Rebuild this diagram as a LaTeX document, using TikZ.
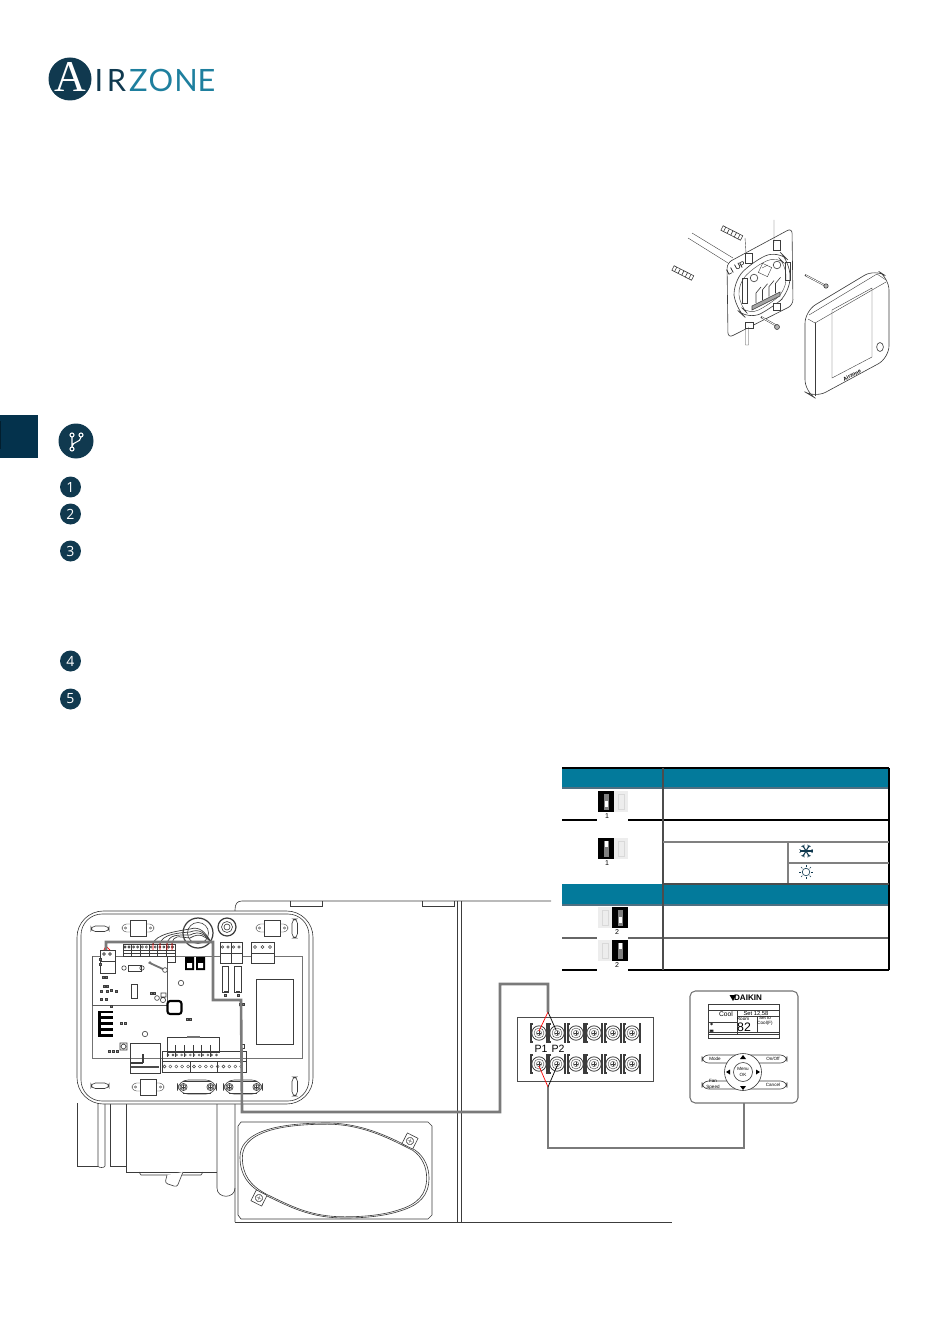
\documentclass[tikz,border=0pt]{standalone}
\usepackage{fontspec}
\setmainfont{Liberation Sans}
\newfontfamily\logofont{Lato}
\newfontfamily\logoserif{Liberation Serif}
\newfontfamily\stepfont{Open Sans}
\usetikzlibrary{calc}

\definecolor{navy}{HTML}{10394F}
\definecolor{darkside}{HTML}{04324C}
\definecolor{teal}{HTML}{037A9B}
\definecolor{logoteal}{HTML}{1E7F9E}
\definecolor{wiregray}{HTML}{7A7A7A}
\definecolor{plan}{HTML}{3C3C3C}

\tikzset{
	plan/.style={draw=plan, line width=0.35pt},
	fine/.style={draw=plan, line width=0.22pt},
	wire/.style={draw=wiregray, line width=1.5pt},
	tabline/.style={draw=black, line width=0.6pt},
	tabgray/.style={draw=gray, line width=0.7pt},
	stepdot/.style={circle, fill=navy, text=white, inner sep=0pt, minimum size=0.42cm, font=\stepfont\fontsize{8}{8}\selectfont},
	logoletter/.style={anchor=base, inner sep=0pt, font=\logofont\fontsize{17.5}{18}\selectfont},
	devtext/.style={inner sep=0pt, font=\fontsize{2.6}{3}\selectfont, align=center},
	screw/.pic={
		\draw [plan, fill=white] (0,0) circle (3.6);
		\draw [plan] (0,0) circle (2.4);
		\draw [plan, line width=0.5pt] (-1.7,0) -- (1.7,0) (0,-1.7) -- (0,1.7);
	},
	clip/.pic={
		\draw [fine, fill=white, rounded corners=2.5] (-16,-4) rectangle (16,4);
		\draw [plan, fill=white] (-8,-8) rectangle (8,8);
		\draw [fine] (-12.5,0) circle (1.2) (12.5,0) circle (1.2);
	},
	tabplate/.pic={
		\draw [plan, fill=white] (-6,-6) rectangle (6,6);
		\draw [plan] (0,0) circle (3.6);
		\draw [fine] (-1.8,0) -- (1.8,0) (0,-1.8) -- (0,1.8);
	},
}

\begin{document}
\begin{tikzpicture}[x=0.02cm, y=-0.02cm]
	\useasboundingbox (0,0) rectangle (950,1344);

	% logo
	\fill [navy] (70,79) circle (21.5);
	\node [logoletter, text=white, font=\logoserif\fontsize{25}{25}\selectfont] (logoA) at (70.5,92) {A};
	\node [logoletter, text=navy] (logoI) at (99,92) {I};
	\node [logoletter, text=navy] (logoR) at (116.5,92) {R};
	\node [logoletter, text=logoteal] (logoZ) at (138.5,92) {Z};
	\node [logoletter, text=logoteal] (logoO) at (161,92) {O};
	\node [logoletter, text=logoteal] (logoN) at (186,92) {N};
	\node [logoletter, text=logoteal] (logoE) at (206.5,92) {E};

	% side tab and icons
	\fill [darkside] (0,415) rectangle (38,458);
	\fill [black!40!darkside] (0,421) rectangle (1,449);
	\fill [navy] (76,441) circle (17.5);
	\draw [white, line width=0.6pt] (72,437) -- (72,447) (81,437) .. controls (81,443) and (72,441) .. (72,447);
	\draw [white, line width=0.6pt] (72,435) circle (2) (81,435) circle (2) (72,449) circle (2);
	\foreach \ny/\lab in {487/1, 514/2, 551/3, 661/4, 699/5}
		\node [stepdot] (step\lab) at (70.5,\ny) {\lab};

	% table bands
	\fill [teal] (562,768) rectangle (889,788);
	\fill [teal] (562,884) rectangle (889,905);
	\draw [tabgray, draw=darkside!70] (562,788) -- (889,788) (562,905) -- (889,905);
	\draw [tabline] (562,768) -- (889,768);
	\draw [tabline] (562,820) -- (889,820);
	\draw [tabline] (562,970) -- (889,970);
	\draw [tabgray, draw=black!60] (562,938) -- (889,938);
	\draw [tabline] (889,768) -- (889,970);
	\draw [tabline, draw=black!70] (663,768) -- (663,970);
	\draw [tabgray] (663,842) -- (889,842);
	\draw [tabgray] (788,863) -- (889,863);
	\draw [tabgray] (788,842) -- (788,884);
	\draw [tabline, draw=black!70] (663,884) -- (889,884);

	% dip switches
	\foreach \gy in {820,938,970}
		\fill [white] (597,\gy-2) rectangle (628,\gy+2);
	\foreach \bx/\by/\wy/\lx/\tx/\lab in {598/791/801/614/607/1, 598/838/841/614/607/1, 612/907/917/598/617/2, 612/940/943/598/617/2} {
		\fill [black!7] (\lx,\by) rectangle ++(14,21);
		\draw [black!15, line width=0.3pt] (\lx+4,\by+3) rectangle ++(6,15);
		\fill [black] (\bx,\by) rectangle ++(15.5,21);
		\fill [black!50] (\bx+5.5,\by+2.5) rectangle ++(5,16);
		\fill [white] (\bx+6.5,\wy) rectangle ++(3,5.5);
		\node [inner sep=0pt, font=\fontsize{4}{4}\selectfont] (dip\by) at (\tx,\by+25.5) {\lab};
	}

	% cold and heat marks
	\coordinate (cold) at (806,851);
	\coordinate (heat) at (806,872);
	\foreach \ang in {0,60,120} {
		\draw [navy, line width=0.6pt] ($(cold)+(\ang:6.5)$) -- ($(cold)+(\ang+180:6.5)$);
		\foreach \sgn in {0,180} {
			\draw [navy, line width=0.4pt] ($(cold)+(\ang+\sgn:4.5)$) -- ++(\ang+\sgn+40:2.5);
			\draw [navy, line width=0.4pt] ($(cold)+(\ang+\sgn:4.5)$) -- ++(\ang+\sgn-40:2.5);
		}
	}
	\draw [navy, line width=0.35pt] (heat) circle (3.8);
	\foreach \ang in {0,45,...,315}
		\draw [navy, line width=0.35pt] ($(heat)+(\ang:5.2)$) -- ($(heat)+(\ang:7)$);

	% wall plate and thermostat
	\draw [fine] (692,233) -- (733,258) (688,238) -- (728,263);
	\draw [plan, fill=white, rounded corners=3] (727,263) -- (792,228) -- (793,305) -- (728,338) -- cycle;
	\draw [plan, rounded corners=8] (733,282) -- (752,262) -- (778,250) -- (790,262) -- (790,292) -- (772,308) -- (748,320) -- (735,308) -- cycle;
	\draw [fine, rounded corners=6] (738,284) -- (754,267) -- (777,256) -- (786,265) -- (786,290) -- (770,304) -- (749,315) -- (740,306) -- cycle;
	\draw [plan] (754,278) circle (3.8) (777,265) circle (3.8);
	\draw [fine, rotate around={-25:(765,270)}] (760,265) rectangle (770,275);
	\draw [fine] (762,268) -- (768,265);
	\draw [plan, fill=black!35] (752,306) -- (780,292) -- (780,296) -- (752,310) -- cycle;
	\foreach \i in {0,1,2,3}
		\draw [plan] (756+\i*6.5,303-\i*3.2) -- (756+\i*6.5,293-\i*3.2) -- (761+\i*6.5,287-\i*3.2);
	\draw [plan, fill=white] (745,253) rectangle (752,263) (773,240) rectangle (780,250) (745,322) rectangle (753,328) (773,303) rectangle (780,310);
	\draw [plan] (742,278) rectangle (747,303) (785,262) rectangle (790,280);
	\node [inner sep=0pt, rotate=28, font=\fontsize{4.6}{5}\selectfont] (plateLabel) at (736,268) {LI UP};
	\foreach \sx/\sy in {722/228, 673/268} {
		\draw [plan, fill=white, rotate around={-27:(\sx,\sy)}] (\sx,\sy-2.5) rectangle (\sx+22,\sy+2.5);
		\foreach \i in {3,7,...,19}
			\draw [plan, rotate around={-27:(\sx,\sy)}] (\sx+\i,\sy-2.5) -- (\sx+\i,\sy+2.5);
	}
	\draw [fine] (745,238) -- (746,253) (774,220) -- (774,243) (745.5,327) -- (745.5,345) -- (748.5,345) -- (748.5,327);
	\draw [plan, line width=1pt] (805,275) -- (826,286) (761,317) -- (777,326);
	\draw [white, line width=0.45pt] (806,275.5) -- (825,285.5) (762,317.5) -- (776,325.5);
	\draw [plan, fill=black!30] (826,286) circle (2.2) (777,327) circle (2.5);
	\draw [plan, fill=white, rounded corners=7] (805,311) -- (875,269) -- (889,278) -- (889,358) -- (815,398) -- (805,392) -- cycle;
	\draw [fine] (809,315) -- (877,274) -- (886,280);
	\draw [fine] (808,319) -- (815,323) -- (886,282);
	\draw [fine] (815,323) -- (815,396);
	\draw [fine] (832,310) -- (872,288) -- (872,357) -- (832,378) -- cycle;
	\draw [plan] (880,347) ellipse (3.4 and 4.5);
	\node [inner sep=0pt, rotate=28, font=\fontsize{3}{3}\selectfont\bfseries] (brand) at (852,375) {Airzone};

	% panel behind the board
	\draw [plan] (235,1222) -- (235,910) .. controls (235,904) and (237,901) .. (242,901) -- (551,901);
	\draw [plan] (290,901) -- (290,906) -- (322,906) -- (322,901);
	\draw [plan] (422,901) -- (422,906) -- (454,906) -- (454,901);
	\draw [plan, line width=0.7pt] (457.5,901) -- (457.5,1222);
	\draw [plan] (461,901) -- (461,1222);
	\draw [plan] (235,1222) -- (672,1222);

	% below the board
	\draw [plan] (77,1103) -- (77,1166) -- (98,1166);
	\draw [plan] (98,1103) -- (98,1166) .. controls (98,1168) and (105,1168) .. (105,1166) -- (105,1103);
	\draw [plan] (110,1103) -- (110,1166) -- (126,1166);
	\draw [plan] (126,1103) -- (126,1172) -- (217,1172);
	\draw [plan] (139,1172) -- (141,1175) -- (201,1175) -- (203,1172);
	\draw [plan, fill=white, rounded corners=1.5] (167,1175) -- (165,1183) -- (177,1187) -- (183,1172);
	\draw [plan] (217,1103) -- (217,1188) .. controls (217,1199) and (235,1199) .. (235,1188);

	% opening with its lid
	\draw [plan] (241,1122) -- (428,1122) -- (432,1126) -- (432,1215) -- (428,1219) -- (241,1219) -- (238,1215) -- (238,1126) -- cycle;
	\foreach \sc in {1,0.975} {
		\begin{scope}[shift={(335,1170)}, scale=\sc, shift={(-335,-1170)}]
			\draw [plan, fill=white] (240,1157) .. controls (240,1135) and (268,1123) .. (327,1123) .. controls (365,1123) and (395,1140) .. (415,1150) .. controls (425,1157) and (429,1168) .. (429,1178) .. controls (429,1195) and (420,1205) .. (400,1211) .. controls (385,1216) and (365,1218) .. (345,1218) .. controls (310,1218) and (290,1207) .. (265,1195) .. controls (248,1186) and (240,1175) .. (240,1157) -- cycle;
		\end{scope}
	}
	\pic [rotate=-27] at (410,1141) {tabplate};
	\pic [rotate=-27] at (259,1198) {tabplate};

	% board housing
	\draw [plan, fill=white, rounded corners=15] (77,911) rectangle (313,1104);
	\draw [plan, rounded corners=12] (81,914) rectangle (309,1101);
	\foreach \lx/\ly in {91/926, 91/1083}
		\draw [plan, rounded corners=2.5] (\lx,\ly) rectangle ++(18,5.5);
	\foreach \ly in {919,1077}
		\draw [plan, rounded corners=2.5] (292,\ly) rectangle ++(5.5,19);
	\pic at (138,928) {clip};
	\pic at (272,928) {clip};
	\pic at (148,1087) {clip};
	\foreach \bx in {197,243} {
		\draw [plan, fill=white, rounded corners=6] (\bx-19.5,1080) rectangle (\bx+19.5,1094);
		\draw [plan, line width=0.5pt] (\bx-14,1081) -- (\bx+14,1081) (\bx-14,1093) -- (\bx+14,1093);
		\pic at (\bx-13.5,1087) {screw};
		\pic at (\bx+13.5,1087) {screw};
	}
	\draw [plan, line width=0.7pt, fill=white] (198,933) circle (15);
	\draw [plan] (198,933) circle (10.5);
	\draw [plan, line width=0.7pt, fill=white] (227,927) circle (9);
	\draw [plan] (227,927) circle (5.5) (227,927) circle (3);

	% printed board
	\draw [plan, draw=black!55] (92,956) rectangle (302,1058);
	\draw [plan, draw=black!65] (92,956) -- (92,1005) -- (167,1005) -- (167,963);
	\draw [plan] (256,979) rectangle (293,1044);
	\draw [plan] (222,966) rectangle (228,992) (234,966) rectangle (241,992);
	\foreach \dx in {225,237}
		\draw [plan, line width=0.7pt] (\dx-1,992) -- (\dx+3,992);

	% terminal blocks along the top
	\foreach \i in {0,...,5} {
		\draw [plan, fill=white] (123+\i*8.7,944) rectangle ++(8.7,12);
		\draw [plan] (123+\i*8.7,950) -- ++(8.7,0);
		\draw [plan] (125+\i*8.7,947) circle (1.1) (129+\i*8.7,947) circle (1.1);
		\draw [fine] (123+\i*8.7,953) -- ++(8.7,0);
	}
	\draw [plan] (167,956) rectangle (175,962);
	\foreach \cx in {220,231}
		\draw [plan, fill=white] (\cx,942) rectangle ++(11,21) (\cx,953) -- ++(11,0);
	\foreach \cx in {222.5,228,233.5,239}
		\draw [plan] (\cx,947) circle (1.3);
	\draw [plan, fill=white] (251,942) rectangle ++(23,21) (251,953) -- ++(23,0);
	\foreach \cx in {255,262.5,270}
		\draw [plan] (\cx,947) circle (1.5);
	\draw [plan, fill=white] (100,950) rectangle (115,973);
	\draw [plan] (100,961) -- (115,961);
	\draw [plan] (104,954) circle (1.4) (110,954) circle (1.4);

	% parts on the board
	\fill [black] (185,957) rectangle (194,970) (196,957) rectangle (205,970);
	\fill [white] (187,963) rectangle (192,968) (198,963) rectangle (203,968);
	\draw [black, line width=1.2pt, rounded corners=1.5] (167.5,1001) rectangle (181.5,1014);
	\fill [black] (98,1011) rectangle (113,1037);
	\foreach \by in {1013,1019,1025,1031}
		\fill [white] (101,\by) rectangle (113,\by+3.4);
	\draw [plan] (128,965) rectangle (141,971) (131,984) rectangle (137,998);
	\draw [plan] (124,968) circle (2.2) (142,968) circle (2.2) (181,983) circle (2.7) (157,998) circle (2.4) (145,1034) circle (2.7);
	\draw [plan] (161,993) rectangle (166,997) (163,1000) circle (2.6);
	\foreach \hx/\hy in {99/958, 99/963, 102/976, 105/976, 103/985, 100/990, 106/985, 106/990, 100/998, 105/998, 110/989, 115/990, 110/1005} 
		\draw [fine, fill=black!55] (\hx,\hy) rectangle ++(2.2,2.2);
	\foreach \hx/\hy in {120/1022, 124/1022, 150/992, 153/992, 186/1018, 189/1018, 239/1003, 242/1003, 108/1050, 112/1050, 116/1050, 224/994, 237/994}
		\draw [fine, fill=black!45] (\hx,\hy) rectangle ++(2.4,1.8);
	\fill [black!55] (150,961) -- (152,963) -- (165,969) -- (165,971) -- (152,965) -- (148,963) -- cycle;
	\draw [plan, fill=white] (165,970) circle (2.4);

	% lower terminals
	\draw [plan, fill=white] (167,1037) rectangle (219,1052);
	\fill [black!55] (187,1035.5) rectangle (200,1037.5);
	\foreach \i in {0,...,5} {
		\draw [plan] (167+\i*8.7,1045) -- ++(0,12) (167+\i*8.7,1052) -- ++(8.7,0);
		\draw [fine] (168+\i*8.7,1055) circle (1) (173+\i*8.7,1055) circle (1);
	}
	\draw [plan] (162,1051) rectangle (246,1072);
	\draw [plan] (162,1061) -- (246,1061);
	\draw [plan] (190,1062) -- (190,1072) (217,1062) -- (217,1072);
	\foreach \i in {0,...,13}
		\draw [fine] (164.5+\i*5.9,1066.5) circle (1.5);
	\draw [plan] (130,1043) rectangle (160,1073);
	\draw [plan, line width=0.6pt] (143,1063) -- (143,1054);
	\draw [plan, line width=0.7pt] (130,1063) -- (143,1063);
	\draw [black!70, line width=1.2pt] (131,1067) -- (159,1067);
	\draw [plan] (120,1043) rectangle (127,1050) (123.5,1046.5) circle (2.4);
	\draw [plan] (240,1044) rectangle (244,1048);

	% wires in the grommet
	\foreach \i/\wx in {0/153, 1/160, 2/167, 3/172}
		\draw [fine, line width=0.4pt] (\wx,944) .. controls (\wx+2,934) and (178,931+\i*2) .. (190,929+\i*3) .. controls (200,926+\i*2) and (205,932+\i*1.5) .. (211,942);
	\draw [red, line width=0.4pt] (104,950) -- (106,946) -- (110,950) (153,942) -- (153,950) (160,942) -- (160,950) (167,942) -- (167,950) (172,942) -- (172,950);

	% wiring
	\coordinate (wA) at (106,950);
	\coordinate (wB) at (106,942);
	\coordinate (wC) at (213,942);
	\coordinate (wD) at (213,1000);
	\coordinate (wE) at (241,1000);
	\coordinate (wF) at (242,1112);
	\coordinate (wG) at (500,1112);
	\coordinate (wH) at (500,984);
	\coordinate (wI) at (548,984);
	\coordinate (wJ) at (548,1012);
	\coordinate (wK) at (548,1087);
	\coordinate (wL) at (548,1148);
	\coordinate (wM) at (744,1148);
	\coordinate (wN) at (744,1103);
	\draw [wire] (wA) -- (wB) -- (wC) -- (wD) -- (wE) -- (wF) -- (wG) -- (wH) -- (wI) -- (wJ);
	\draw [wire] (wK) -- (wL) -- (wM) -- (wN);

	% terminal strip
	\draw [plan, fill=white, draw=black!70] (517,1017) rectangle (653,1081);
	\foreach \tx in {539,557,576,594,613,632}
		\foreach \ty in {1033,1064} {
			\draw [plan, line width=0.7pt, fill=white] (\tx-8,\ty-9) rectangle (\tx+8,\ty+9);
			\fill [white] (\tx-6.5,\ty-10) rectangle (\tx+6.5,\ty+10);
			\draw [plan, line width=0.45pt] (\tx,\ty) circle (7.2);
			\draw [fine] (\tx,\ty) circle (5);
			\draw [fine] (\tx,\ty) circle (2.6);
			\draw [plan] (\tx-2.2,\ty) -- (\tx+2.2,\ty) (\tx,\ty-2.2) -- (\tx,\ty+2.2);
		}
	\node [inner sep=0pt, font=\fontsize{6}{7}\selectfont] (P1) at (541,1049) {P1};
	\node [inner sep=0pt, font=\fontsize{6}{7}\selectfont] (P2) at (558,1049) {P2};
	\draw [red, line width=0.4pt] (wJ) -- (539,1031) (wK) -- (539,1066);
	\draw [black, line width=0.4pt] (wJ) -- (556,1030) (wK) -- (557,1066);

	% remote controller
	\draw [draw=black!55, line width=0.6pt, fill=white, rounded corners=3] (690,991) rectangle (798,1103);
	\fill [black] (729.5,995) -- (736,995) -- (733,1001) -- cycle;
	\node [inner sep=0pt, font=\fontsize{4.6}{5}\selectfont\bfseries] (daikin) at (748,998) {DAIKIN};
	\draw [plan] (708,1004) rectangle (779,1038);
	\draw [fine] (708,1010) -- (779,1010) (737,1016) -- (779,1016) (708,1022) -- (737,1022) (708,1032) -- (779,1032) (708,1034) -- (779,1034);
	\draw [fine] (737,1010) -- (737,1034) (757,1016) -- (757,1032);
	\node [devtext, font=\fontsize{3.8}{4}\selectfont] (lcdCool) at (726,1014) {Cool};
	\node [devtext, font=\fontsize{3.3}{4}\selectfont] (lcdSet) at (756,1013) {Set 12.58};
	\node [devtext] (lcdRoom) at (743,1018.5) {Room};
	\node [devtext, font=\fontsize{7}{7}\selectfont] (lcdTemp) at (744,1027) {82};
	\node [devtext] (lcdTo) at (765,1021) {Set to\\Cool(F)};
	\fill [plan] (711.5,1024) circle (1) (710,1030) rectangle (713,1031.5);
	\draw [plan, rounded corners=3.8] (702,1055) rectangle (787,1063);
	\draw [plan, rounded corners=3.8] (702,1081) rectangle (787,1089);
	\draw [plan, fill=white] (743,1072) circle (18.5);
	\draw [plan] (743,1072) circle (9.5);
	\fill [black] (743,1055) -- (746,1059) -- (740,1059) -- cycle;
	\fill [black] (743,1090) -- (746,1086) -- (740,1086) -- cycle;
	\fill [black] (726,1072) -- (730,1069.5) -- (730,1074.5) -- cycle;
	\fill [black] (760,1072) -- (756,1069.5) -- (756,1074.5) -- cycle;
	\node [devtext] (btnMode) at (715,1058.5) {Mode};
	\node [devtext] (btnOn) at (773,1058.5) {On/Off};
	\node [devtext] (btnFan) at (713,1084.5) {Fan\\Speed};
	\node [devtext] (btnCancel) at (773,1085) {Cancel};
	\node [devtext] (btnMenu) at (743,1072) {Menu\\OK};
\end{tikzpicture}
\end{document}
